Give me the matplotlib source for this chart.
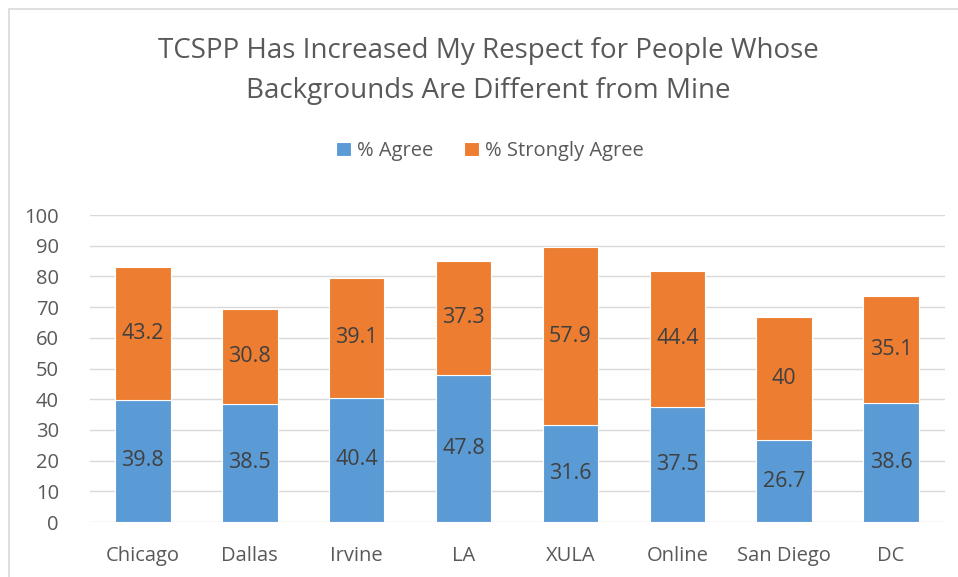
import matplotlib
matplotlib.use("Agg")
import matplotlib.pyplot as plt
from matplotlib.patches import Rectangle
import numpy as np

categories = ["Chicago", "Dallas", "Irvine", "LA", "XULA", "Online", "San Diego", "DC"]
agree = [39.8, 38.5, 40.4, 47.8, 31.6, 37.5, 26.7, 38.6]
strongly_agree = [43.2, 30.8, 39.1, 37.3, 57.9, 44.4, 40, 35.1]
agree_labels = ["39.8", "38.5", "40.4", "47.8", "31.6", "37.5", "26.7", "38.6"]
strong_labels = ["43.2", "30.8", "39.1", "37.3", "57.9", "44.4", "40", "35.1"]
yticks = [0, 10, 20, 30, 40, 50, 60, 70, 80, 90, 100]

plt.rcParams['font.family'] = ['Open Sans', 'DejaVu Sans']

W, H = 958, 577
fig = plt.figure(figsize=(W/100, H/100), dpi=100)

# chart border
fig.patches.append(Rectangle((9/W, -0.1), 1.2, 1 - 9/H + 0.1, transform=fig.transFigure,
                             fill=False, edgecolor="#D9D9D9", linewidth=1.2))

ax = fig.add_axes([89.5/W, 1 - 522/H, (944.5-89.5)/W, (522-215)/H])
x = np.arange(len(categories))
blue = "#5B9BD5"
orange = "#ED7D31"
w = 0.52
b1 = ax.bar(x, agree, width=w, color=blue, edgecolor="white", linewidth=0.8, zorder=3, label="% Agree")
b2 = ax.bar(x, strongly_agree, width=w, bottom=agree, color=orange, edgecolor="white", linewidth=0.8,
            zorder=3, label="% Strongly Agree")

for i in range(len(categories)):
    ax.text(x[i], agree[i] / 2, agree_labels[i], ha="center", va="center", fontsize=15.5, color="#404040", zorder=4)
    ax.text(x[i], agree[i] + strongly_agree[i] / 2, strong_labels[i], ha="center", va="center",
            fontsize=15.5, color="#404040", zorder=4)

ax.set_xlim(-0.5, len(categories) - 0.5)
ax.set_ylim(0, 100)
ax.set_yticks(yticks)
ax.set_yticklabels([str(v) for v in yticks])
ax.set_xticks(x)
ax.set_xticklabels(categories)
ax.tick_params(axis="both", length=0, labelsize=14.5, colors="#595959")
ax.tick_params(axis="y", pad=22)
ax.tick_params(axis="x", pad=17)
ax.yaxis.grid(True, color="#D9D9D9", linewidth=1)
ax.set_axisbelow(True)
for s in ax.spines.values():
    s.set_visible(False)

fig.text(488/W, 1 - 71/H, "TCSPP Has Increased My Respect for People Whose\nBackgrounds Are Different from Mine",
         ha="center", va="center", fontsize=20, color="#595959", linespacing=1.55)

leg = fig.legend(handles=[b1, b2], loc="center", bbox_to_anchor=(490/W, 1 - 151/H), ncol=2, frameon=False,
                 fontsize=14.5, handlelength=0.75, handleheight=0.75, handletextpad=0.3, columnspacing=1.5)
for t in leg.get_texts():
    t.set_color("#595959")

fig.savefig("out.png", dpi=100)
